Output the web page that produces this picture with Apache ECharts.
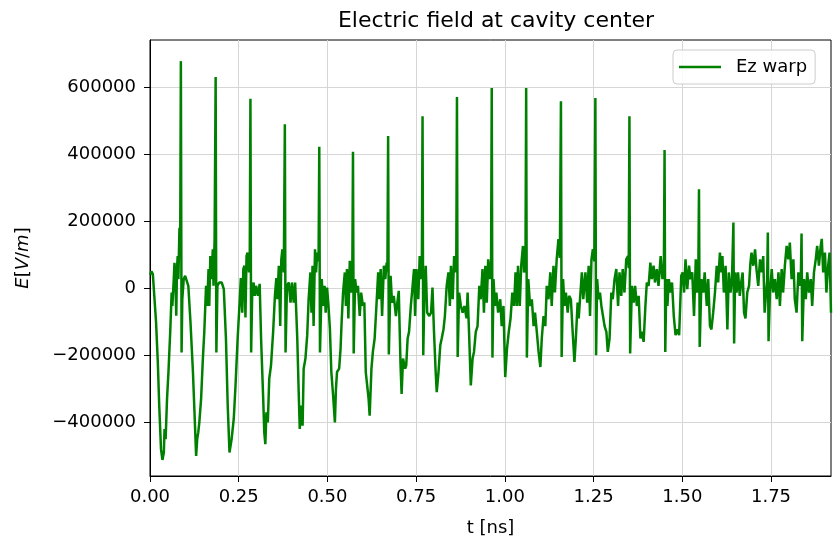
<!DOCTYPE html>
<html><head><meta charset="utf-8">
<script src="https://cdn.jsdelivr.net/npm/echarts@6/dist/echarts.min.js"></script>
<style>html,body{margin:0;padding:0;background:#fff}#c{width:833px;height:542px}</style>
</head><body><div id="c"></div>
<script>
const seriesName = 'Ez warp';
const times = [
0.000,0.004,0.008,0.012,0.017,0.022,0.026,0.031,0.035,0.039,0.041,0.044,0.048,0.052,0.057,0.061,0.063,0.067,0.069,0.072,0.074,0.076,0.078,0.080,0.083,0.085,0.087,0.089,0.091,0.095,0.099,0.104,0.108,0.114,0.121,0.125,0.130,0.133,0.136,0.139,0.144,0.149,0.153,0.158,0.161,0.165,0.167,0.170,0.173,0.177,0.179,0.182,0.185,0.187,0.190,0.195,0.202,0.208,0.214,0.219,0.224,0.230,0.236,
0.241,0.247,0.253,0.256,0.260,0.263,0.266,0.269,0.272,0.275,0.279,0.281,0.283,0.285,0.288,0.292,0.295,0.299,0.304,0.309,0.313,0.319,0.322,0.325,0.328,0.332,0.336,0.341,0.347,0.352,0.356,0.359,0.363,0.367,0.370,0.373,0.377,0.380,0.382,0.386,0.391,0.396,0.400,0.405,0.409,0.415,0.419,0.422,0.426,0.430,0.433,0.438,0.443,0.447,0.452,0.455,0.458,0.461,0.465,0.468,0.471,0.475,0.477,0.479,
0.484,0.488,0.492,0.495,0.499,0.503,0.507,0.511,0.516,0.521,0.524,0.527,0.533,0.537,0.540,0.544,0.549,0.552,0.555,0.559,0.563,0.567,0.570,0.572,0.574,0.578,0.582,0.586,0.591,0.595,0.600,0.604,0.608,0.612,0.616,0.619,0.624,0.628,0.633,0.638,0.643,0.646,0.650,0.654,0.659,0.663,0.667,0.669,0.671,0.673,0.678,0.682,0.687,0.693,0.697,0.701,0.706,0.709,0.713,0.719,0.722,0.726,0.730,0.735,0.740,0.744,0.747,0.751,0.756,0.760,0.764,0.766,0.768,0.770,
0.773,0.777,0.781,0.787,0.792,0.796,0.800,0.805,0.808,0.813,0.818,0.822,0.827,0.831,0.836,0.841,0.845,0.848,0.853,0.857,0.861,0.863,0.865,0.867,0.871,0.876,0.881,0.886,0.892,0.895,0.899,0.904,0.909,0.913,0.918,0.923,0.928,0.932,0.937,0.941,0.945,0.949,0.953,0.958,0.961,0.963,0.965,
0.968,0.972,0.976,0.981,0.987,0.991,0.996,1.001,1.006,1.011,1.016,1.021,1.026,1.030,1.034,1.037,1.042,1.046,1.051,1.054,1.058,1.060,1.062,1.066,1.071,1.076,1.081,1.085,1.090,1.095,1.100,1.104,1.109,1.114,1.118,1.123,1.128,1.132,1.137,1.141,1.146,1.151,1.155,1.158,1.160,
1.164,1.168,1.172,1.177,1.181,1.186,1.191,1.196,1.200,1.205,1.208,1.213,1.217,1.221,1.227,1.232,1.236,1.240,1.244,1.248,1.252,1.255,1.257,1.260,1.264,1.268,1.272,1.277,1.281,1.286,1.290,1.295,1.300,1.304,1.309,1.314,1.319,1.323,1.328,1.332,1.337,1.342,1.347,1.349,1.351,1.353,
1.358,1.363,1.367,1.372,1.377,1.382,1.386,1.391,1.396,1.400,1.405,1.410,1.414,1.419,1.423,1.428,1.433,1.439,1.444,1.448,1.450,1.452,1.455,1.458,1.462,1.467,1.471,1.476,1.481,1.486,1.491,1.494,1.497,1.501,1.505,1.509,1.514,1.519,1.523,1.528,1.533,1.538,1.542,1.545,1.547,1.549,
1.554,1.559,1.563,1.569,1.573,1.578,1.582,1.587,1.592,1.597,1.601,1.606,1.610,1.613,1.617,1.622,1.627,1.631,1.636,1.640,1.644,1.646,1.649,1.653,1.657,1.662,1.666,1.670,1.674,1.678,1.683,1.688,1.692,1.695,1.700,1.705,1.709,1.714,1.719,1.724,1.728,1.732,1.736,1.739,1.741,1.743,
1.747,1.752,1.756,1.761,1.766,1.771,1.775,1.780,1.784,1.789,1.794,1.799,1.803,1.808,1.813,1.817,1.822,1.827,1.831,1.834,1.836,1.838,1.843,1.848,1.852,1.857,1.862,1.866,1.871,1.876,1.880,1.885,1.890,1.893,1.897,1.902,1.906,1.911,1.915,1.919
];
const values = [
40000,50000,42000,45000,-100000,-220000,-350000,-480000,-512000,-490000,-420000,-450000,-330000,-250000,-130000,-13000,-53000,27000,76000,7000,-82000,57000,96000,27000,180000,106000,677000,-192000,-33000,27000,37000,35000,7000,-100000,-250000,-360000,-500000,-450000,-430000,-400000,-330000,-210000,-130000,7000,-53000,57000,-53000,96000,27000,116000,7000,146000,630000,-192000,7000,17000,17000,-3000,-150000,-350000,-490000,-450000,-390000,
-290000,-150000,-33000,30000,-73000,57000,67000,-87000,96000,106000,47000,70000,565000,-192000,-13000,17000,-23000,7000,-23000,13000,-150000,-330000,-430000,-465000,-370000,-400000,-270000,-230000,-130000,-23000,30000,-33000,67000,-113000,86000,116000,47000,489000,-192000,7000,17000,-43000,17000,-43000,17000,-150000,-310000,-420000,-350000,-410000,-240000,-210000,-140000,-33000,47000,-73000,67000,-113000,116000,47000,106000,80000,422000,-192000,
27000,-53000,7000,-73000,2000,-53000,-123000,-250000,-320000,-400000,-300000,-250000,-240000,-180000,-100000,-13000,47000,-53000,57000,-90000,82000,-13000,30000,407000,-195000,27000,-13000,7000,-83000,-13000,-53000,-43000,-250000,-290000,-330000,-380000,-240000,-190000,-150000,-53000,47000,-33000,57000,-83000,67000,27000,76000,50000,454000,-198000,37000,-43000,-23000,-83000,-43000,-8000,-230000,-315000,-210000,-240000,-230000,-150000,-130000,-53000,7000,57000,-83000,57000,-33000,96000,27000,60000,513000,-200000,
-23000,67000,-73000,-83000,-73000,2000,-123000,-250000,-310000,-250000,-170000,-150000,-123000,-83000,7000,47000,-53000,67000,-33000,96000,47000,60000,570000,-205000,-13000,-53000,-73000,-53000,-90000,-13000,-130000,-290000,-210000,-190000,-130000,-113000,7000,-33000,57000,-73000,67000,-43000,86000,27000,50000,597000,-207000,
27000,-53000,-13000,-73000,-33000,-113000,-53000,-265000,-180000,-130000,-90000,-13000,-53000,47000,-53000,67000,-53000,67000,126000,47000,60000,597000,-207000,27000,-53000,-33000,-113000,-73000,-130000,-190000,-235000,-150000,-83000,-113000,7000,-33000,47000,-53000,67000,-13000,86000,146000,90000,557000,-205000,
27000,-53000,-13000,-73000,-23000,-33000,-130000,-220000,-150000,-43000,-90000,-13000,47000,-33000,47000,-43000,67000,-83000,86000,116000,80000,567000,-200000,27000,-33000,-13000,-53000,-53000,-113000,-130000,-190000,-150000,-13000,-33000,27000,57000,-53000,47000,-23000,57000,-13000,86000,96000,60000,513000,-195000,
7000,-43000,7000,-53000,-23000,-150000,-130000,-160000,-53000,17000,7000,76000,27000,67000,17000,57000,7000,96000,27000,50000,412000,-190000,27000,-53000,27000,-13000,17000,-83000,-140000,-123000,-140000,-53000,37000,47000,-13000,86000,-3000,67000,27000,47000,-83000,86000,-13000,30000,295000,-175000,
27000,-13000,47000,-53000,27000,-113000,-123000,-73000,-13000,67000,17000,106000,47000,96000,-13000,67000,-123000,47000,-13000,30000,196000,-165000,47000,-13000,47000,-23000,17000,47000,-73000,-90000,-13000,7000,76000,106000,67000,116000,57000,7000,86000,47000,96000,-73000,-13000,20000,166000,-158000,
-13000,57000,-13000,27000,-33000,47000,-53000,57000,-13000,67000,126000,86000,136000,27000,86000,-33000,-73000,47000,7000,30000,163000,-158000,27000,-33000,47000,-13000,27000,-53000,47000,86000,126000,67000,126000,147000,47000,106000,-13000,67000,106000,-73000
];
const xTicks = [0, 0.25, 0.5, 0.75, 1.0, 1.25, 1.5, 1.75];
const yTicks = [-400000, -200000, 0, 200000, 400000, 600000];
const titleText = 'Electric field at cavity center';
const xName = 't [ns]';

const data = times.map((t, i) => [t, values[i]]);
const FONT = 'DejaVu Sans';
const chart = echarts.init(document.getElementById('c'), null, {renderer: 'canvas'});
chart.setOption({
  animation: false,
  backgroundColor: '#fff',
  title: {
    text: titleText, left: 491, top: 5, textAlign: 'center',
    textStyle: {fontFamily: FONT, fontSize: 22, fontWeight: 'normal', color: '#000'}
  },
  legend: {
    data: [{name: seriesName, icon: 'rect'}],
    left: 673, top: 50, orient: 'vertical',
    itemWidth: 42, itemHeight: 2.5,
    padding: [8, 8, 8, 6],
    borderColor: '#cccccc', borderWidth: 1, borderRadius: 4,
    backgroundColor: 'rgba(255,255,255,0.85)',
    textStyle: {fontFamily: FONT, fontSize: 18, color: '#000', padding: [0, 0, 0, 10]}
  },
  grid: {left: 150, right: 2, top: 40, bottom: 65, show: true, borderColor: '#000', borderWidth: 1, backgroundColor: 'transparent'},
  xAxis: {
    type: 'value', min: 0, max: 1.919,
    name: xName, nameLocation: 'middle', nameGap: 43,
    nameTextStyle: {fontFamily: FONT, fontSize: 18, color: '#000'},
    axisLine: {onZero: false, lineStyle: {color: '#000', width: 1}},
    axisTick: {customValues: xTicks, length: 6, lineStyle: {color: '#000', width: 1}},
    axisLabel: {customValues: xTicks, formatter: v => v.toFixed(2), fontFamily: FONT, fontSize: 18, color: '#000', margin: 12},
    splitLine: {show: true, lineStyle: {color: '#d6d6d6', width: 1}}
  },
  yAxis: {
    type: 'value', min: -560000, max: 740000,
    name: '{i|E}{n|[}{i|V}{n|/}{i|m}{n|]}', nameLocation: 'middle', nameGap: 118, nameRotate: 90,
    nameTextStyle: {fontFamily: FONT, fontSize: 18, color: '#000',
      rich: {i: {fontFamily: FONT, fontSize: 18, fontStyle: 'italic', color: '#000'}, n: {fontFamily: FONT, fontSize: 18, color: '#000'}}},
    axisLine: {onZero: false, lineStyle: {color: '#000', width: 1}},
    axisTick: {customValues: yTicks, length: 6, lineStyle: {color: '#000', width: 1}},
    axisLabel: {customValues: yTicks, formatter: v => v < 0 ? '\u2212' + Math.abs(v) : String(v), fontFamily: FONT, fontSize: 18, color: '#000', margin: 14},
    splitLine: {show: true, lineStyle: {color: '#d6d6d6', width: 1}}
  },
  series: [{
    name: seriesName, type: 'line', data: data, showSymbol: false, symbol: 'none',
    lineStyle: {color: '#008000', width: 2.5}, itemStyle: {color: '#008000'}, clip: true
  }]
});
</script></body></html>
